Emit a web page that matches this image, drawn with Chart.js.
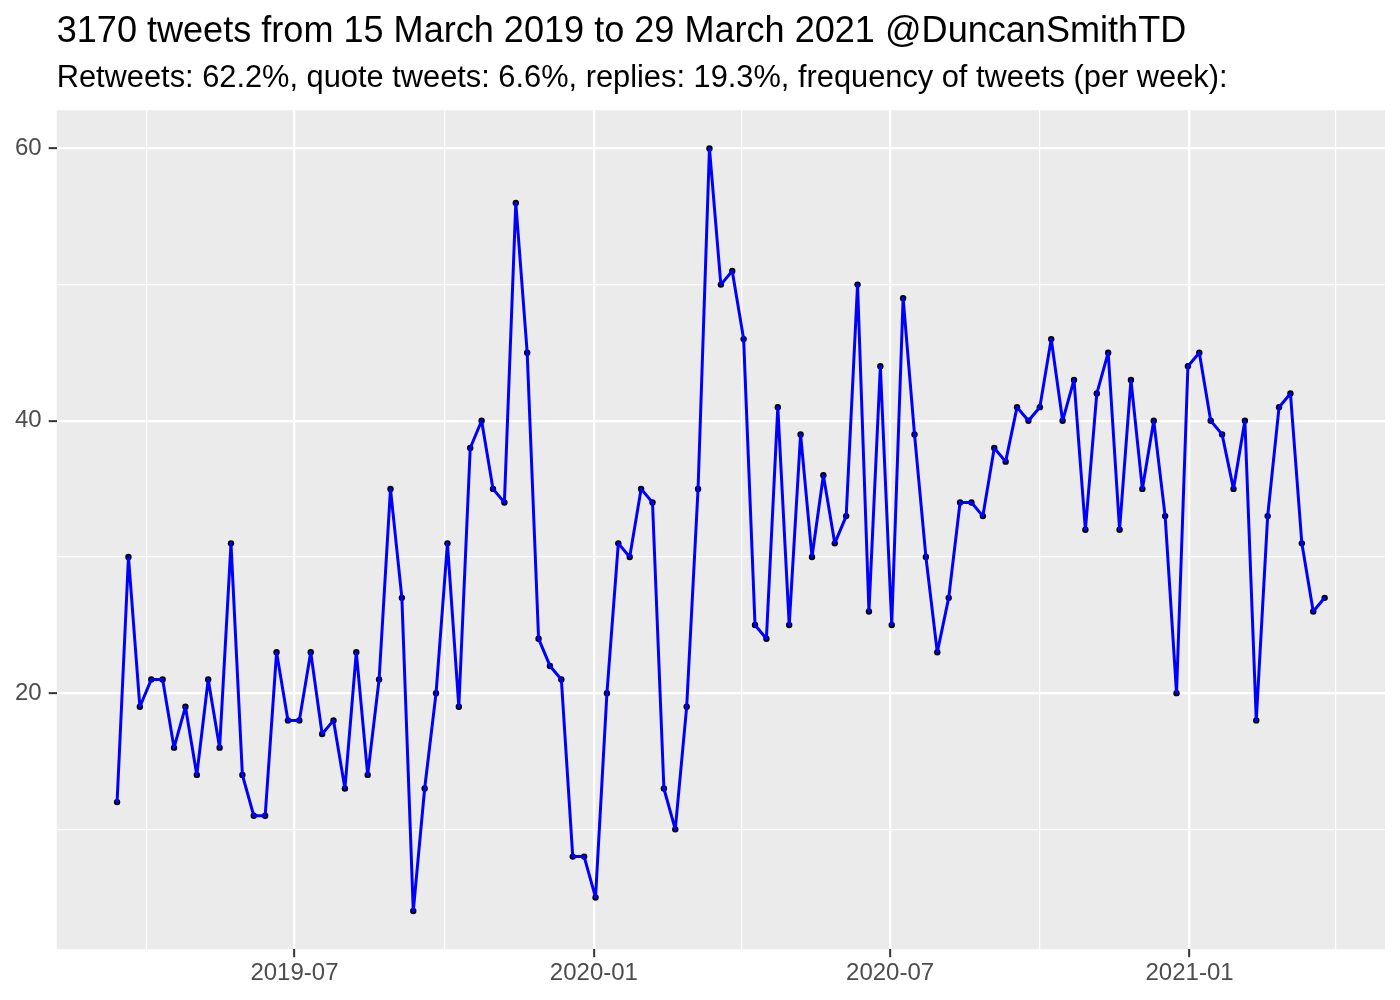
<!DOCTYPE html>
<html lang="en">
<head>
<meta charset="UTF-8">
<title>Tweets per week @DuncanSmithTD</title>
<style>
  html, body { margin: 0; padding: 0; background: #ffffff; }
  .chart-wrap { width: 1400px; height: 1000px; }
</style>
<script src="https://cdn.jsdelivr.net/npm/chart.js"></script>
</head>
<body>
<div class="chart-wrap">
  <canvas id="tweetChart" width="1400" height="1000"></canvas>
</div>
<script>
const titleText = '3170 tweets from 15 March 2019 to 29 March 2021 @DuncanSmithTD';
const subtitleText = 'Retweets: 62.2%, quote tweets: 6.6%, replies: 19.3%, frequency of tweets (per week):';

// one value per week, starting with the week of firstWeek
const firstWeek = '2019-03-14';
const tweetsPerWeek = [
  12, 30, 19, 21, 21, 16, 19, 14, 21, 16,
  31, 14, 11, 11, 23, 18, 18, 23, 17, 18,
  13, 23, 14, 21, 35, 27, 4, 13, 20, 31,
  19, 38, 40, 35, 34, 56, 45, 24, 22, 21,
  8, 8, 5, 20, 31, 30, 35, 34, 13, 10,
  19, 35, 60, 50, 51, 46, 25, 24, 41, 25,
  39, 30, 36, 31, 33, 50, 26, 44, 25, 49,
  39, 30, 23, 27, 34, 34, 33, 38, 37, 41,
  40, 41, 46, 40, 43, 32, 42, 45, 32, 43,
  35, 40, 33, 20, 44, 45, 40, 39, 35, 40,
  18, 33, 41, 42, 31, 26, 27
];

// axis breaks
const xMajorBreaks = ['2019-07-01', '2020-01-01', '2020-07-01', '2021-01-01'];
const xTickLabels = ['2019-07', '2020-01', '2020-07', '2021-01'];
const xMinorBreaks = ['2019-04-01', '2019-10-01', '2020-04-01', '2020-10-01', '2021-04-01'];
const yMajorBreaks = [20, 40, 60];
const yMinorBreaks = [10, 30, 50];

const toDay = s => Date.parse(s + 'T00:00:00Z') / 86400000;

const startDay = toDay(firstWeek);
const points = tweetsPerWeek.map((v, i) => ({ x: startDay + 7 * i, y: v }));

// ggplot style 5% expansion of both ranges
const xLo = points[0].x, xHi = points[points.length - 1].x;
const yLo = Math.min(...tweetsPerWeek), yHi = Math.max(...tweetsPerWeek);
const xPad = (xHi - xLo) * 0.05, yPad = (yHi - yLo) * 0.05;

const xMajorDays = xMajorBreaks.map(toDay);
const xMinorDays = xMinorBreaks.map(toDay);
const xLabelFor = {};
xMajorDays.forEach((d, i) => { xLabelFor[d] = xTickLabels[i]; });

const isMajorX = v => xMajorDays.includes(v);
const isMajorY = v => yMajorBreaks.includes(v);

const panelBackground = {
  id: 'panelBackground',
  beforeDraw(chart) {
    const { ctx, chartArea: a } = chart;
    ctx.save();
    ctx.fillStyle = '#EBEBEB';
    ctx.fillRect(a.left, a.top, a.right - a.left, a.bottom - a.top);
    ctx.restore();
  }
};

const fontFamily = '"Liberation Sans", Arial, Helvetica, sans-serif';

new Chart(document.getElementById('tweetChart'), {
  type: 'line',
  data: {
    datasets: [
      {
        // the line sits on top of the dots
        data: points,
        borderColor: '#0000FF',
        borderWidth: 3,
        borderJoinStyle: 'round',
        borderCapStyle: 'round',
        pointRadius: 0,
        tension: 0,
        order: 1
      },
      {
        data: points,
        showLine: false,
        pointRadius: 3.2,
        pointBackgroundColor: '#000000',
        pointBorderWidth: 0,
        order: 2
      }
    ]
  },
  options: {
    responsive: false,
    animation: false,
    devicePixelRatio: 1,
    layout: { padding: { top: 0, left: 8, right: 15, bottom: 10 } },
    plugins: {
      legend: { display: false },
      tooltip: { enabled: false },
      title: {
        display: true,
        text: titleText,
        align: 'start',
        fullSize: false,
        color: '#000000',
        font: { family: fontFamily, size: 36.1, weight: 'normal', lineHeight: 1.2 },
        padding: { top: 10, bottom: 7 }
      },
      subtitle: {
        display: true,
        text: subtitleText,
        align: 'start',
        fullSize: false,
        color: '#000000',
        font: { family: fontFamily, size: 30.8, weight: 'normal', lineHeight: 1.2 },
        padding: { top: 0, bottom: 13 }
      }
    },
    scales: {
      x: {
        type: 'linear',
        min: xLo - xPad,
        max: xHi + xPad,
        afterBuildTicks(scale) {
          scale.ticks = [...xMinorDays, ...xMajorDays].sort((a, b) => a - b).map(v => ({ value: v }));
        },
        ticks: {
          autoSkip: false,
          maxRotation: 0,
          padding: 2,
          color: '#4D4D4D',
          font: { family: fontFamily, size: 24, lineHeight: 1.2 },
          callback: v => xLabelFor[v] || ''
        },
        grid: {
          color: '#FFFFFF',
          lineWidth: ctx => isMajorX(ctx.tick.value) ? 2.3 : 1.2,
          tickLength: 8,
          tickWidth: 2,
          tickColor: ctx => isMajorX(ctx.tick.value) ? '#333333' : 'rgba(0,0,0,0)'
        },
        border: { display: false }
      },
      y: {
        type: 'linear',
        min: yLo - yPad,
        max: yHi + yPad,
        afterBuildTicks(scale) {
          scale.ticks = [...yMinorBreaks, ...yMajorBreaks].sort((a, b) => a - b).map(v => ({ value: v }));
        },
        ticks: {
          autoSkip: false,
          padding: 7,
          color: '#4D4D4D',
          font: { family: fontFamily, size: 24, lineHeight: 1.2 },
          callback: v => isMajorY(v) ? String(v) : ''
        },
        grid: {
          color: '#FFFFFF',
          lineWidth: ctx => isMajorY(ctx.tick.value) ? 2.3 : 1.2,
          tickLength: 8,
          tickWidth: 2,
          tickColor: ctx => isMajorY(ctx.tick.value) ? '#333333' : 'rgba(0,0,0,0)'
        },
        border: { display: false }
      }
    }
  },
  plugins: [panelBackground]
});
</script>
</body>
</html>
